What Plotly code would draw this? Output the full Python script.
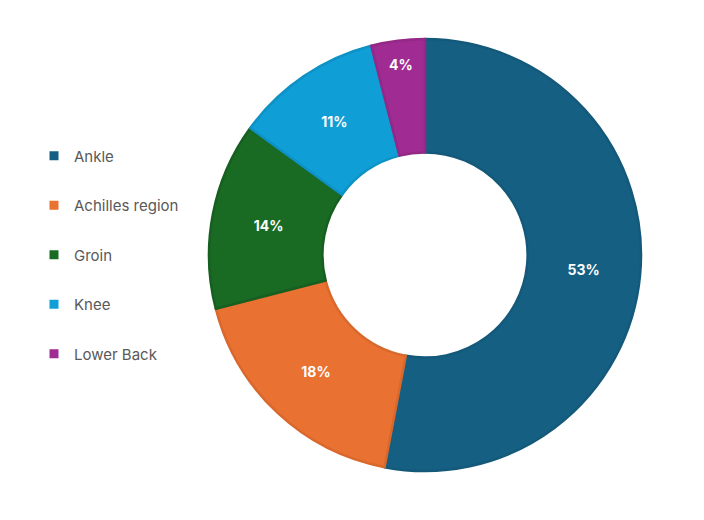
import plotly.graph_objects as go

categories = ["Ankle", "Achilles region", "Groin", "Knee", "Lower Back"]
values = [53, 18, 14, 11, 4]
fill_colors = ["#156082", "#E97132", "#196B24", "#0F9ED5", "#A02B93"]
edge_colors = ["#14597A", "#D9682D", "#175F21", "#0E92C5", "#932887"]

W, H = 704, 520
cx, cy, r = 417, 247, 216

fig = go.Figure()
fig.add_trace(go.Pie(
    labels=categories,
    values=values,
    sort=False,
    direction="clockwise",
    rotation=0,
    hole=0.475,
    marker=dict(colors=fill_colors, line=dict(color=edge_colors, width=2.5)),
    texttemplate="%{percent:.0%}",
    textposition="inside",
    insidetextorientation="horizontal",
    textfont=dict(family="Inter", size=14, color="white", weight="bold"),
    showlegend=False,
    hoverinfo="label+percent",
    domain=dict(x=[(cx - r) / W, (cx + r) / W],
                y=[(H - cy - r) / H, (H - cy + r) / H]),
))

# legend entries (one per category) so their spacing can be set
for i, (name, col) in enumerate(zip(categories, fill_colors)):
    fig.add_trace(go.Scatter(
        x=[None], y=[None], mode="markers", name=name,
        legendgroup=f"g{i}",
        marker=dict(symbol="square", size=9, color=col),
        showlegend=True,
    ))

fig.update_layout(
    width=W, height=H,
    margin=dict(l=0, r=0, t=0, b=0),
    paper_bgcolor="white", plot_bgcolor="white",
    xaxis=dict(visible=False), yaxis=dict(visible=False),
    legend=dict(
        x=26 / W, xanchor="left", y=(H - 247) / H, yanchor="middle",
        font=dict(family="Inter", size=15, color="#595959"),
        tracegroupgap=27, itemclick=False,
    ),
)
fig.write_html("out.html")
